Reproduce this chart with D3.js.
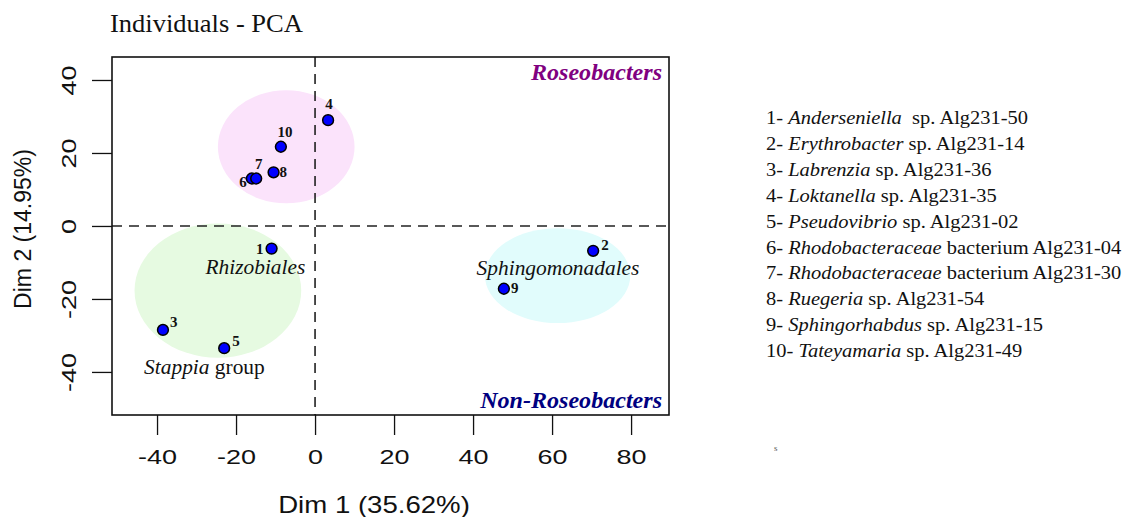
<!DOCTYPE html>
<html>
  <head>
    <meta http-equiv="Content-Type" content="text/html;charset=utf-8">
    <title>Individuals - PCA</title>
    <script type="text/javascript" src="https://cdn.jsdelivr.net/npm/d3@7"></script>
    <style type="text/css">
body {
    margin: 0;
    background: #fff;
}
.serif {
    font-family: "Liberation Serif", "Times New Roman", serif;
    fill: #111;
}
.sans {
    font-family: "Liberation Sans", Arial, sans-serif;
    fill: #111;
}
.axis path.domain {
    display: none;
}
.axis line {
    stroke: #111;
    stroke-width: 1.3;
}
    </style>
  </head>
  <body>
    <script type="text/javascript">
// individuals, coordinates
var ids  = [1, 2, 3, 4, 5, 6, 7, 8, 9, 10];
var dim1 = [-11.0, 70.4, -38.5, 3.3, -23.0, -16.0, -14.9, -10.5, 47.8, -8.65];
var dim2 = [-6.2, -6.8, -28.5, 29.0, -33.5, 13.0, 13.0, 14.7, -17.2, 21.7];

// group ellipses (centre and radii in axis units)
var groupNames = ["Roseobacters", "Rhizobiales", "Sphingomonadales"];
var groupCx = [-7.3, -24.6, 61.4];
var groupCy = [21.7, -17.7, -13.6];
var groupRx = [17.3, 21.1, 18.4];
var groupRy = [15.5, 18.4, 13.0];
var groupFill = ["#fbe3fb", "#e6fae1", "#e1fcfc"];

var xTicks = [-40, -20, 0, 20, 40, 60, 80];
var yTicks = [-40, -20, 0, 20, 40];

var legendGenus = ["Anderseniella", "Erythrobacter", "Labrenzia", "Loktanella", "Pseudovibrio",
  "Rhodobacteraceae", "Rhodobacteraceae", "Ruegeria", "Sphingorhabdus", "Tateyamaria"];
var legendRest = ["\u00a0 sp. Alg231-50", " sp. Alg231-14", " sp. Alg231-36", " sp. Alg231-35", " sp. Alg231-02",
  " bacterium Alg231-04", " bacterium Alg231-30", " sp. Alg231-54", " sp. Alg231-15", " sp. Alg231-49"];

var width = 1138,
   height = 517;

var pLeft = 112, pRight = 669, pTop = 57, pBottom = 415;

var x = d3.scaleLinear().domain([-51.4, 89.6]).range([pLeft, pRight]);
var y = d3.scaleLinear().domain([-51.8, 46.3]).range([pBottom, pTop]);

var svg = d3.select("body")
  .append("svg")
  .attr("width", width)
  .attr("height", height);

svg.append("rect")
  .attr("width", width)
  .attr("height", height)
  .attr("fill", "#fff");

// text helper: glyphs in the source look wide, so stretch a bit horizontally
function label(g, tx, ty, str, cls, size, sx, anchor) {
  return g.append("text")
    .attr("class", cls)
    .attr("transform", "translate(" + tx + "," + ty + ") scale(" + sx + ",1)")
    .attr("text-anchor", anchor || "start")
    .style("font-size", size + "px")
    .text(str);
}

label(svg, 110, 32, "Individuals - PCA", "serif", 26, 1.02);

var plot = svg.append("g");

// ellipses
plot.selectAll("ellipse")
  .data(groupNames)
  .enter().append("ellipse")
  .attr("cx", function(d, i) { return x(groupCx[i]); })
  .attr("cy", function(d, i) { return y(groupCy[i]); })
  .attr("rx", function(d, i) { return x(groupRx[i]) - x(0); })
  .attr("ry", function(d, i) { return y(0) - y(groupRy[i]); })
  .attr("fill", function(d, i) { return groupFill[i]; });

// dashed zero lines
plot.append("line")
  .attr("x1", pLeft).attr("x2", pRight)
  .attr("y1", y(0)).attr("y2", y(0))
  .attr("stroke", "#222").attr("stroke-width", 1.6)
  .attr("stroke-dasharray", "10,7");
plot.append("line")
  .attr("x1", x(0)).attr("x2", x(0))
  .attr("y1", pTop).attr("y2", pBottom)
  .attr("stroke", "#222").attr("stroke-width", 1.6)
  .attr("stroke-dasharray", "10,7");

// group labels
var gl = plot.append("g");
label(gl, x(-15.1), y(-13.2), "Rhizobiales", "serif", 20, 1.07, "middle").style("font-style", "italic");
var st = label(gl, x(-28.0), y(-40.5), "", "serif", 20, 1.07, "middle");
st.append("tspan").style("font-style", "italic").text("Stappia");
st.append("tspan").text(" group");
label(gl, x(61.5), y(-13.4), "Sphingomonadales", "serif", 20, 1.07, "middle").style("font-style", "italic");

label(gl, pRight - 7, 80, "Roseobacters", "serif", 22.5, 1.07, "end")
  .style("font-style", "italic").style("font-weight", "bold").style("fill", "#800080");
label(gl, pRight - 7, 408, "Non-Roseobacters", "serif", 22.5, 1.07, "end")
  .style("font-style", "italic").style("font-weight", "bold").style("fill", "#000080");

// points
plot.selectAll("circle.pt")
  .data(ids)
  .enter().append("circle")
  .attr("class", "pt")
  .attr("cx", function(d, i) { return x(dim1[i]); })
  .attr("cy", function(d, i) { return y(dim2[i]); })
  .attr("r", 5.4)
  .attr("fill", "#0000ff")
  .attr("stroke", "#000")
  .attr("stroke-width", 1.5);

// point label placement (offsets in px, like R's pos argument)
var labelOffset = {
  1: [-8, 5, "end"], 2: [8, -1, "start"], 3: [7, -3, "start"], 4: [1, -11, "middle"],
  5: [8, -2, "start"], 6: [-5, 8, "end"], 7: [2.5, -9.5, "middle"], 8: [6, 5, "start"],
  9: [7, 4.5, "start"], 10: [4, -10, "middle"]
};
ids.forEach(function(d, i) {
  var o = labelOffset[d];
  label(plot, x(dim1[i]) + o[0], y(dim2[i]) + o[1], String(d), "serif", 15, 1.0, o[2])
    .style("font-weight", "bold");
});

// box
plot.append("rect")
  .attr("x", pLeft).attr("y", pTop)
  .attr("width", pRight - pLeft).attr("height", pBottom - pTop)
  .attr("fill", "none").attr("stroke", "#111").attr("stroke-width", 1.6);

// axes
var fmt = function(d) { return String(d); };

var xa = svg.append("g")
  .attr("class", "axis")
  .attr("transform", "translate(0," + pBottom + ")")
  .call(d3.axisBottom(x).tickValues(xTicks).tickSize(20).tickFormat(fmt));
xa.selectAll("text")
  .attr("class", "sans")
  .attr("y", null).attr("dy", null)
  .attr("transform", "translate(0,49) scale(1.35,1)")
  .style("font-size", "20px");

var ya = svg.append("g")
  .attr("class", "axis")
  .attr("transform", "translate(" + pLeft + ",0)")
  .call(d3.axisLeft(y).tickValues(yTicks).tickSize(20).tickFormat(fmt));
ya.selectAll("text")
  .attr("class", "sans")
  .attr("x", null).attr("dy", null)
  .attr("text-anchor", "middle")
  .attr("transform", "translate(-36,0) rotate(-90) scale(1.35,1)")
  .style("font-size", "20px");

label(svg, 374, 513, "Dim 1 (35.62%)", "sans", 23, 1.2, "middle");
svg.append("text")
  .attr("class", "sans")
  .attr("transform", "translate(31,229) rotate(-90)")
  .attr("text-anchor", "middle")
  .style("font-size", "23px")
  .text("Dim 2 (14.95%)");

// legend
var leg = svg.append("g");
legendGenus.forEach(function(g, i) {
  var t = label(leg, 766, 124 + i * 25.9, "", "serif", 19.5, 1.05);
  t.append("tspan").text(ids[i] + "- ");
  t.append("tspan").style("font-style", "italic").text(g);
  t.append("tspan").text(legendRest[i]);
});

label(svg, 774, 451, "s", "serif", 9, 1.0).style("fill", "#555");
    </script>
  </body>
</html>
